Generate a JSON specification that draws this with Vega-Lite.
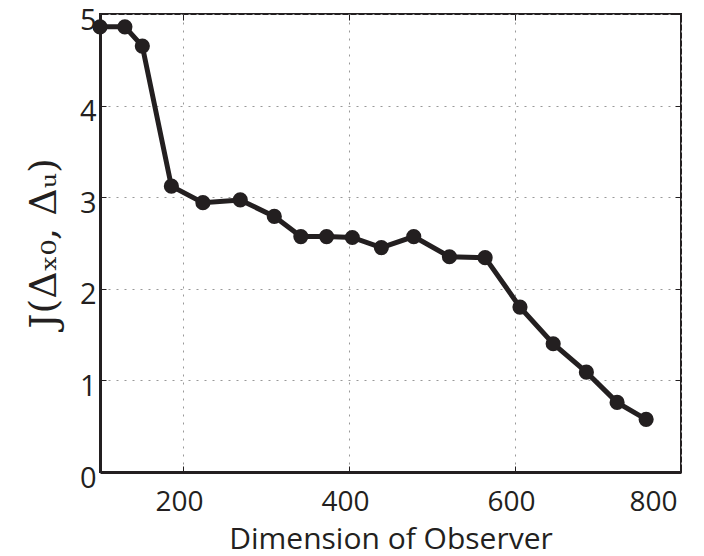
{
  "$schema": "https://vega.github.io/schema/vega-lite/v6.json",
  "width": 581,
  "height": 458,
  "autosize": {"type": "none"},
  "padding": {"left": 100, "top": 14, "right": 23, "bottom": 84},
  "background": "white",
  "config": {
    "view": {"stroke": "#231f20", "strokeWidth": 2},
    "axis": {
      "labelFont": "Open Sans",
      "labelFontSize": 29,
      "labelColor": "#231f20",
      "titleFont": "Open Sans",
      "titleColor": "#231f20",
      "titleFontWeight": "normal",
      "domainColor": "#231f20",
      "domainWidth": 3,
      "tickColor": "#231f20",
      "tickSize": -6,
      "tickWidth": 1,
      "grid": true,
      "gridColor": "#999999",
      "gridDash": [2, 6],
      "gridWidth": 1
    }
  },
  "data": {
    "values": [
      {"dim": 100, "J": 4.86},
      {"dim": 130, "J": 4.86},
      {"dim": 151, "J": 4.65},
      {"dim": 186, "J": 3.12},
      {"dim": 224, "J": 2.94},
      {"dim": 269, "J": 2.97},
      {"dim": 310, "J": 2.79},
      {"dim": 342, "J": 2.57},
      {"dim": 373, "J": 2.57},
      {"dim": 404, "J": 2.56},
      {"dim": 439, "J": 2.45},
      {"dim": 478, "J": 2.57},
      {"dim": 521, "J": 2.35},
      {"dim": 564, "J": 2.34},
      {"dim": 606, "J": 1.80},
      {"dim": 646, "J": 1.40},
      {"dim": 686, "J": 1.09},
      {"dim": 723, "J": 0.76},
      {"dim": 758, "J": 0.575}
    ]
  },
  "resolve": {"axis": {"x": "independent", "y": "independent"}},
  "layer": [
    {
      "mark": {"type": "line", "color": "#231f20", "strokeWidth": 5},
      "encoding": {
        "x": {
          "field": "dim",
          "type": "quantitative",
          "scale": {"domain": [100, 800], "nice": false, "zero": false},
          "axis": {
            "orient": "bottom",
            "values": [200, 400, 600, 800],
            "title": "Dimension of Observer",
            "titleFontSize": 30,
            "titleBaseline": "alphabetic",
            "titleY": 76,
            "labelFontSize": 28,
            "labelPadding": 22,
            "labelOffset": -4,
            "labelOverlap": false
          }
        },
        "y": {
          "field": "J",
          "type": "quantitative",
          "scale": {"domain": [0, 5], "nice": false},
          "axis": {
            "orient": "left",
            "values": [0, 1, 2, 3, 4, 5],
            "title": "J(Δₓ₀, Δᵤ)",
            "titleFont": "DejaVu Serif",
            "titleFontSize": 38,
            "titlePadding": 16,
            "labelPadding": 10,
            "labelOffset": 6,
            "labelOverlap": false
          }
        }
      }
    },
    {
      "mark": {"type": "point", "filled": true, "color": "#231f20", "size": 230, "opacity": 1},
      "encoding": {
        "x": {
          "field": "dim",
          "type": "quantitative",
          "scale": {"domain": [100, 800], "nice": false, "zero": false},
          "axis": {
            "orient": "top",
            "values": [200, 400, 600, 800],
            "title": null,
            "labels": false,
            "grid": false,
            "domain": false
          }
        },
        "y": {
          "field": "J",
          "type": "quantitative",
          "scale": {"domain": [0, 5], "nice": false},
          "axis": {
            "orient": "right",
            "values": [0, 1, 2, 3, 4, 5],
            "title": null,
            "labels": false,
            "grid": false,
            "domain": false
          }
        }
      }
    }
  ]
}
